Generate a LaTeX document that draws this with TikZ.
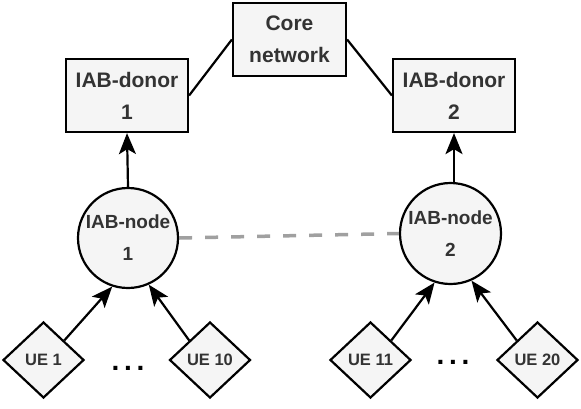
\documentclass[tikz,border=0pt]{standalone}
\usepackage{fontspec}
\setmainfont{Liberation Sans}
\usetikzlibrary{shapes.geometric,arrows.meta}
\definecolor{boxfill}{HTML}{F5F5F5}
\definecolor{txt}{HTML}{333333}
\definecolor{dashgray}{HTML}{A0A0A0}
\begin{document}
\begin{tikzpicture}[x=1pt,y=-1pt,
  every node/.style={inner sep=0pt},
  boxnode/.style={draw=black,line width=2.2pt,fill=boxfill,text=txt,align=center,
    font=\fontsize{21}{32}\selectfont\bfseries},
  iabnode/.style={circle,draw=black,line width=2.2pt,fill=boxfill,text=txt,align=center,
    font=\fontsize{19}{32}\selectfont\bfseries},
  uenode/.style={diamond,draw=black,line width=2.2pt,fill=boxfill,text=txt,
    minimum width=81pt,minimum height=76pt,font=\fontsize{16.5}{20}\selectfont\bfseries},
  link/.style={line width=2.2pt,draw=black},
  uplink/.style={line width=2.2pt,draw=black,-{Stealth[length=21pt,width=17pt,inset=5pt]}},
  dotsnode/.style={font=\fontsize{28}{30}\selectfont\bfseries,text=black}
]
\useasboundingbox (0,0) rectangle (581,408);
\node[boxnode,minimum width=113pt,minimum height=73pt] (core) at (289.5,39.5) {Core\\network};
\node[boxnode,minimum width=122pt,minimum height=73pt] (donor1) at (127,95.5) {IAB-donor\\1};
\node[boxnode,minimum width=122pt,minimum height=73pt] (donor2) at (454,95.5) {IAB-donor\\2};
\node[iabnode,minimum size=100pt] (iab1) at (128,238) {IAB-node\\1};
\node[iabnode,minimum size=101pt] (iab2) at (450.5,233.5) {IAB-node\\2};
\node[uenode] (ue1) at (43.5,360) {UE 1};
\node[uenode] (ue10) at (210,360) {UE 10};
\node[uenode] (ue11) at (370.5,360) {UE 11};
\node[uenode] (ue20) at (537.5,360) {UE 20};
\node[dotsnode] (dots1) at (128,368) {.\,.\,.};
\node[dotsnode] (dots2) at (453,362) {.\,.\,.};
\draw[link] (core.west) -- (donor1.east);
\draw[link] (core.east) -- (donor2.west);
\draw[uplink] (iab1.north) -- (donor1.south);
\draw[uplink] (iab2.north -| donor2.south) -- (donor2.south);
\draw[dashgray,line width=3.5pt,dash pattern=on 13pt off 13pt] (iab1.east) -- (iab2.west);
\draw[uplink] (ue1.north east) -- (iab1.252);
\draw[uplink] (ue10.north west) -- (iab1.294);
\draw[uplink] (ue11.north east) -- (iab2.252);
\draw[uplink] (ue20.north west) -- (iab2.294);
\end{tikzpicture}
\end{document}
